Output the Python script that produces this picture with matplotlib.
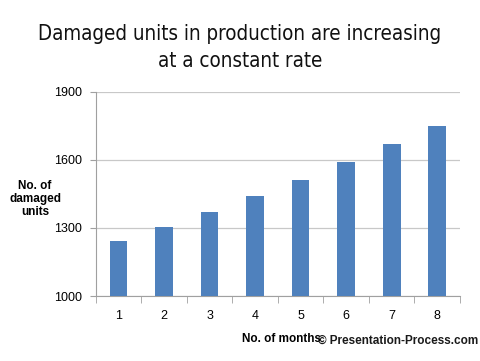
import matplotlib
matplotlib.use("Agg")
import matplotlib.pyplot as plt

months = [1, 2, 3, 4, 5, 6, 7, 8]
damaged = [1242, 1305, 1370, 1439, 1512, 1589, 1668, 1750]
yticks = [1000, 1300, 1600, 1900]

fig = plt.figure(figsize=(4.8, 3.61), dpi=100)
ax = fig.add_axes([95.7 / 480, 1 - 296 / 361, (460 - 95.7) / 480, (296 - 91.7) / 361])

ax.bar(months, damaged, width=0.39, color="#4f81bd", zorder=3)
ax.set_xlim(0.5, 8.5)
ax.set_ylim(1000, 1900)
ax.set_yticks(yticks)
ax.set_xticks(months)
ax.grid(axis="y", color="#c8c8c8", linewidth=0.9, zorder=0)

for s in ["top", "right"]:
    ax.spines[s].set_visible(False)
ax.spines["left"].set_color("#a0a0a0")
ax.spines["bottom"].set_color("#a0a0a0")

# category boundary ticks like Excel
ax.set_xticks([x + 0.5 for x in range(0, 9)], minor=True)
ax.tick_params(axis="x", which="major", length=0, pad=10, labelsize=9)
ax.tick_params(axis="x", which="minor", length=5, color="#a0a0a0")
ax.tick_params(axis="y", length=4, color="#a0a0a0", labelsize=9, pad=6)
for lab in ax.get_xticklabels() + ax.get_yticklabels():
    lab.set_family("Liberation Sans")

fig.text(0.5, 1 - 47.5 / 361, "Damaged units in production are increasing\nat a constant rate",
         ha="center", va="center", fontsize=14.8, family="DejaVu Sans", stretch="condensed",
         linespacing=1.4, color="#111111")

fig.text(35 / 480, 1 - 199 / 361, "No. of\ndamaged\nunits", ha="center", va="center",
         fontsize=8.5, fontweight="bold", family="Liberation Sans", linespacing=1.1)
fig.text(242 / 480, 1 - 339 / 361, "No. of months", ha="left", va="center",
         fontsize=8.5, fontweight="bold", family="Liberation Sans")
fig.text(478 / 480, 1 - 341 / 361, "\u00a9 Presentation-Process.com", ha="right", va="center",
         fontsize=8.5, fontweight="bold", family="Liberation Sans", color="#1a1a1a")

fig.savefig("out.png", dpi=100)
